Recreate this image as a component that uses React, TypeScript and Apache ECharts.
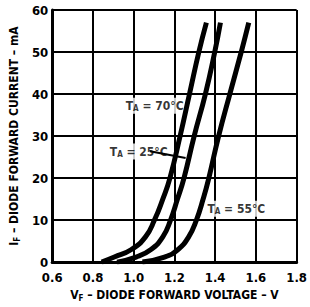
import React, { useEffect, useRef } from "react";
import * as echarts from "echarts";

const currents = [0, 1.2, 3, 6, 10, 15, 20, 30, 40, 50, 57];
const volts70 = [0.843, 0.905, 0.989, 1.058, 1.102, 1.143, 1.178, 1.228, 1.274, 1.32, 1.357];
const volts25 = [0.918, 1.012, 1.085, 1.143, 1.181, 1.215, 1.247, 1.297, 1.352, 1.398, 1.426];
const volts55 = [1.043, 1.151, 1.218, 1.27, 1.308, 1.341, 1.369, 1.417, 1.472, 1.528, 1.565];

const labelTexts = ["70°C", "25°C", "55°C"];
const labelPos: [number, number][] = [
  [1.103, 37.2],
  [1.025, 26.3],
  [1.504, 12.7],
];
const leader: [number, number][] = [
  [1.08, 26.4],
  [1.255, 24.8],
];

const FONT = "DejaVu Sans Condensed";

export default function App() {
  const ref = useRef<HTMLDivElement>(null);
  useEffect(() => {
    if (!ref.current) return;
    const chart = echarts.init(ref.current, null, { renderer: "svg" });
    const curve = (vs: number[]) => ({
      type: "line",
      data: vs.map((v, i) => [v, currents[i]]),
      showSymbol: false,
      smooth: 0.5,
      lineStyle: { color: "#000", width: 5, cap: "butt" },
      z: 5,
    });
    const rich = {
      b: { fontFamily: FONT, fontWeight: "bold", fontSize: 12, color: "#000" },
      s: { fontFamily: FONT, fontWeight: "bold", fontSize: 8, color: "#000", verticalAlign: "bottom", padding: [6, 0, 0, 0] },
    };
    chart.setOption({
      animation: false,
      grid: { left: 44, right: 6, top: 10, bottom: 39 },
      xAxis: {
        type: "value",
        min: 0.6,
        max: 1.8,
        interval: 0.2,
        axisLine: { show: true, lineStyle: { color: "#000", width: 3 } },
        axisTick: { show: false },
        axisLabel: {
          color: "#000",
          fontFamily: FONT,
          fontWeight: "bold",
          fontSize: 13,
          margin: 9,
          formatter: (v: number) => v.toFixed(1),
        },
        splitLine: { show: true, lineStyle: { color: "#000", width: 2 } },
        name: "{b|V}{s|F}{b| – DIODE FORWARD VOLTAGE – V}",
        nameLocation: "middle",
        nameGap: 22,
        nameTextStyle: { rich },
      },
      yAxis: {
        type: "value",
        min: 0,
        max: 60,
        interval: 10,
        axisLine: { show: true, lineStyle: { color: "#000", width: 3 } },
        axisTick: { show: false },
        axisLabel: {
          color: "#000",
          fontFamily: FONT,
          fontWeight: "bold",
          fontSize: 13,
          margin: 4,
        },
        splitLine: { show: true, lineStyle: { color: "#000", width: 2 } },
        name: "{b|I}{s|F}{b| – DIODE FORWARD CURRENT – mA}",
        nameLocation: "middle",
        nameGap: 24,
        nameRotate: 90,
        nameTextStyle: { rich },
      },
      series: [
        curve(volts70),
        curve(volts25),
        curve(volts55),
        {
          type: "line",
          data: leader,
          showSymbol: false,
          lineStyle: { color: "#000", width: 2 },
          z: 4,
        },
        {
          type: "scatter",
          symbolSize: 0,
          z: 3,
          data: labelPos.map((p, i) => ({ value: p, name: labelTexts[i] })),
          label: {
            show: true,
            position: "inside",
            backgroundColor: "#fff",
            padding: [1, 1, 1, 1],
            formatter: (p: any) => "{b|T}{s|A}{b| = " + p.name + "}",
            rich,
          },
        },
      ],
    });
    return () => chart.dispose();
  }, []);
  return (
    <div
      ref={ref}
      style={{ position: "absolute", left: 0, top: 0, width: 310, height: 307, background: "#fff" }}
    />
  );
}
